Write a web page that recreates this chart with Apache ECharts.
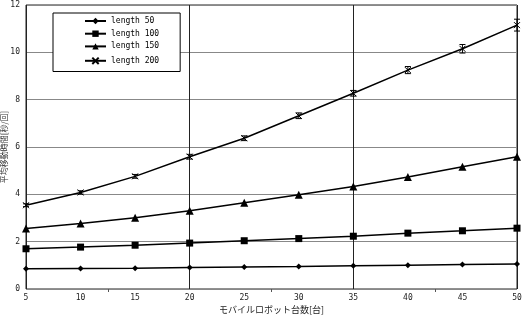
<!DOCTYPE html>
<html>
<head>
<meta charset="utf-8">
<script src="https://cdn.jsdelivr.net/npm/echarts@6/dist/echarts.min.js"></script>
<style>
html,body{margin:0;padding:0;background:#fff;}
#chart{width:526px;height:320px;}
</style>
</head>
<body>
<div id="chart"></div>
<script>
// 台数
var robots = [5, 10, 15, 20, 25, 30, 35, 40, 45, 50];
var len50  = [0.86, 0.87, 0.88, 0.91, 0.93, 0.95, 0.98, 1.00, 1.03, 1.06];
var len100 = [1.70, 1.77, 1.85, 1.94, 2.04, 2.13, 2.23, 2.36, 2.46, 2.57];
var len150 = [2.56, 2.77, 3.01, 3.31, 3.64, 3.98, 4.33, 4.73, 5.17, 5.59];
var len200 = [3.54, 4.08, 4.76, 5.59, 6.37, 7.32, 8.27, 9.25, 10.15, 11.15];
var err200 = [0.06, 0.07, 0.08, 0.1, 0.1, 0.12, 0.12, 0.15, 0.18, 0.25];
var names = ['length 50', 'length 100', 'length 150', 'length 200'];
var yTicks = [0, 2, 4, 6, 8, 10, 12];

var font = '"Noto Sans CJK JP", "DejaVu Sans", sans-serif';
var mono = '"DejaVu Sans Mono", "Liberation Mono", monospace';
var crossPath = 'path://M0,0L10,10M10,0L0,10';

function pairs(ys){
    return robots.map(function(x, i){ return [x, ys[i]]; });
}

function lineSeries(name, ys, symbol, size){
    return {
        name: name,
        type: 'line',
        data: pairs(ys),
        symbol: symbol,
        symbolSize: size,
        xAxisIndex: 0,
        lineStyle: {color: '#000', width: 1.5},
        itemStyle: {color: '#000'},
        z: 3
    };
}

var series = [
    lineSeries(names[0], len50, 'diamond', 6),
    lineSeries(names[1], len100, 'rect', 7),
    lineSeries(names[2], len150, 'triangle', 8),
    {
        name: names[3],
        type: 'line',
        data: pairs(len200),
        symbol: crossPath,
        symbolSize: 6,
        lineStyle: {color: '#000', width: 1.5},
        itemStyle: {color: 'none', borderColor: '#000', borderWidth: 1},
        z: 3
    },
    {   // 誤差棒
        type: 'custom',
        data: robots.map(function(x, i){ return [x, len200[i] - err200[i], len200[i] + err200[i]]; }),
        renderItem: function(params, api){
            var lo = api.coord([api.value(0), api.value(1)]);
            var hi = api.coord([api.value(0), api.value(2)]);
            var w = 3;
            return {
                type: 'group',
                children: [
                    {type: 'line', shape: {x1: lo[0], y1: lo[1], x2: hi[0], y2: hi[1]}, style: {stroke: '#000', lineWidth: 1}},
                    {type: 'line', shape: {x1: lo[0] - w, y1: lo[1], x2: lo[0] + w, y2: lo[1]}, style: {stroke: '#000', lineWidth: 1}},
                    {type: 'line', shape: {x1: hi[0] - w, y1: hi[1], x2: hi[0] + w, y2: hi[1]}, style: {stroke: '#000', lineWidth: 1}}
                ]
            };
        },
        encode: {x: 0, y: [1, 2]},
        z: 4,
        silent: true
    }
];

var chart = echarts.init(document.getElementById('chart'));
chart.setOption({
    animation: false,
    backgroundColor: '#fff',
    textStyle: {fontFamily: font},
    grid: {
        left: 26, right: 9, top: 5, bottom: 31,
        outerBoundsMode: 'none',
        show: true, borderColor: '#222', borderWidth: 1
    },
    legend: {
        data: names,
        orient: 'vertical',
        left: 53,
        top: 13,
        padding: [4, 21, 5, 31],
        itemWidth: 21,
        itemHeight: 8,
        itemGap: 4.7,
        backgroundColor: '#fff',
        borderColor: '#000',
        borderWidth: 1,
        borderRadius: 0,
        textStyle: {fontSize: 8, color: '#000', fontFamily: mono}
    },
    xAxis: [{
        type: 'value', min: 5, max: 50, interval: 5,
        name: 'モバイルロボット台数[台]', nameLocation: 'middle', nameGap: 16,
        nameMoveOverlap: false,
        nameTextStyle: {fontSize: 9, color: '#222'},
        axisLine: {show: false},
        axisTick: {show: false},
        splitLine: {show: false},
        axisLabel: {fontSize: 8, color: '#222', margin: 5, fontFamily: mono}
    }, {
        type: 'value', min: 5, max: 50, interval: 15, position: 'bottom',
        axisLine: {show: false},
        axisTick: {show: false},
        axisLabel: {show: false},
        minorTick: {show: true, splitNumber: 2, length: 3, lineStyle: {color: '#555'}},
        splitLine: {show: true, lineStyle: {color: '#222', width: 1}}
    }],
    yAxis: {
        type: 'value', min: yTicks[0], max: yTicks[yTicks.length - 1], interval: 2,
        name: '平均移動時間[秒/回]', nameLocation: 'middle', nameGap: 18, nameRotate: 90,
        nameMoveOverlap: false,
        nameTextStyle: {fontSize: 8, color: '#333'},
        axisLine: {show: false},
        axisTick: {show: false},
        axisLabel: {fontSize: 8, color: '#222', margin: 6, fontFamily: mono},
        splitLine: {show: true, lineStyle: {color: '#888', width: 1}}
    },
    series: series
});
</script>
</body>
</html>
